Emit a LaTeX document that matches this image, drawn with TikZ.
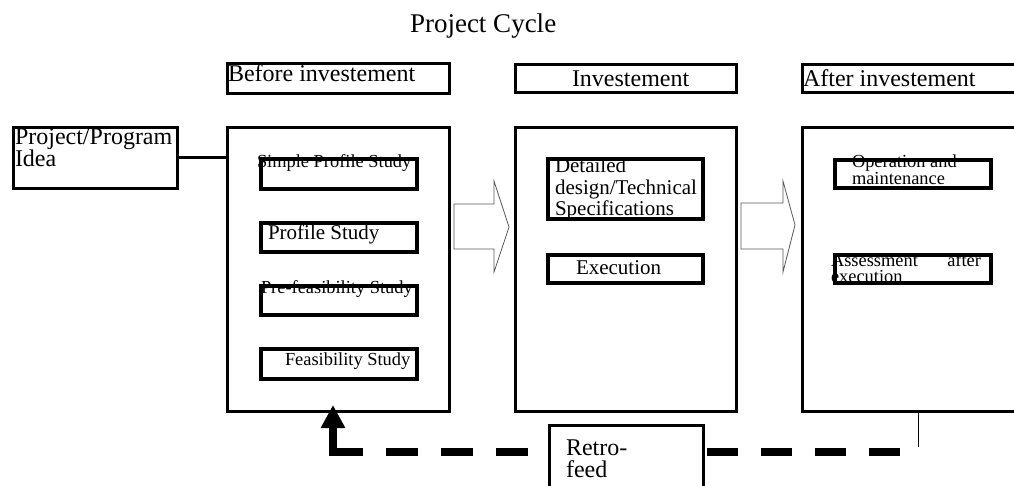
\documentclass[tikz,border=0pt]{standalone}
\usepackage{fontspec}
\setmainfont{Liberation Serif}
\usetikzlibrary{arrows.meta,calc}
\newcommand\fsz[1]{\fontsize{#1}{#1}\selectfont}
\tikzset{
  frame/.style={draw=black, line width=3pt, fill=white, inner sep=0pt, outer sep=0pt},
  ibox/.style={draw=black, line width=3.6pt, fill=white, inner sep=0pt, outer sep=0pt},
  txt/.style={anchor=base west, inner sep=0pt, outer sep=0pt},
  blockarrow/.style={draw=black!65, line width=0.8pt, fill=white},
  thickdash/.style={line width=8pt, dash pattern=on 31pt off 23pt},
  feedback/.style={line width=8.5pt, dash pattern=on 32pt off 23pt on 32pt off 23pt on 32pt off 23pt on 200pt,
    -{Triangle[width=23pt,length=23pt]}},
}
\begin{document}
\begin{tikzpicture}[x=1pt,y=-1pt]
\path[use as bounding box, clip] (0,0) rectangle (1014,486);

% title
\node[txt] (title) at (410,33) {\fsz{27}Project Cycle};

% header boxes
\node[frame, minimum width=222pt, minimum height=30pt] (bhead) at (338.5,78.5) {};
\node[frame, minimum width=221pt, minimum height=28pt] (ihead) at (626,78.5) {};
\node[frame, minimum width=240pt, minimum height=28pt] (ahead) at (922.5,78.5) {};
\node[txt] (bheadt) at (228,82) {\fsz{24}Before investement};
\node[txt] (iheadt) at (572,87) {\fsz{24}Investement};
\node[txt] (aheadt) at (803,87) {\fsz{24}After investement};

% main boxes
\node[frame, minimum width=222pt, minimum height=284pt] (bmain) at (338.5,269.5) {};
\node[frame, minimum width=221pt, minimum height=284pt] (imain) at (626,269.5) {};
\node[frame, minimum width=240pt, minimum height=284pt] (amain) at (922.5,269.5) {};

% idea box
\node[frame, minimum width=164pt, minimum height=61pt] (idea) at (95.5,158) {};
\node[txt] (ideat1) at (15,145) {\fsz{24}Project/Program};
\node[txt] (ideat2) at (15,167) {\fsz{24}Idea};
\draw[line width=3pt] (idea.east) -- (idea.east -| bmain.west);

% before inner boxes
\node[ibox, minimum width=156pt, minimum height=30pt] (sps) at (339,174) {};
\node[ibox, minimum width=156pt, minimum height=29pt] (ps) at (339,237.5) {};
\node[ibox, minimum width=156pt, minimum height=29pt] (pfs) at (339,300.5) {};
\node[ibox, minimum width=156pt, minimum height=30pt] (fs) at (339,364) {};
\node[txt] (spst) at (257,168) {\fsz{18.4}Simple Profile Study};
\node[txt] (pst) at (268,240) {\fsz{21}Profile Study};
\node[txt] (pfst) at (261,294) {\fsz{18.4}Pre-feasibility Study};
\node[txt] (fst) at (285,365) {\fsz{18.4}Feasibility Study};

% investment inner boxes
\node[ibox, minimum width=155pt, minimum height=60pt] (dd) at (625.5,189) {};
\node[ibox, minimum width=155pt, minimum height=28pt] (ex) at (625.5,269) {};
\node[txt] (ddt1) at (555,173) {\fsz{21}Detailed};
\node[txt] (ddt2) at (555,195) {\fsz{21}design/Technical};
\node[txt] (ddt3) at (555,216) {\fsz{21}Specifications};
\node[txt] (ext) at (576,275) {\fsz{21}Execution};

% after inner boxes
\node[ibox, minimum width=156pt, minimum height=28pt] (om) at (913,174) {};
\node[ibox, minimum width=156pt, minimum height=28pt] (ae) at (913,269) {};
\node[txt] (omt1) at (852,168) {\fsz{18.4}Operation and};
\node[txt] (omt2) at (852,185) {\fsz{18.4}maintenance};
\node[txt] (aet1) at (831,266) {\fsz{18.4}\makebox[150pt][l]{Assessment\hfill after}};
\node[txt] (aet2) at (831,283) {\fsz{18.4}execution};

% block arrows
\draw[blockarrow] (454,204) -- (494,204) -- (494,181) -- (509,227) -- (494,272) -- (494,249) -- (454,249) -- cycle;
\draw[blockarrow] (741,203) -- (783,203) -- (783,181) -- (795,225) -- (783,272) -- (783,249) -- (741,249) -- cycle;

% retro-feed
\coordinate (rstart) at (528,452);
\coordinate (tip) at (333,405);
\coordinate (rend) at (902,452);
\coordinate (vline) at (918,447);
\draw[feedback] (rstart) -- (rstart -| tip) -- (tip);
\draw[thickdash] (707,452) -- (rend);
\draw[line width=1pt] (vline |- amain.south) -- (vline);
\node[frame, minimum width=154pt, minimum height=100pt] (retro) at (626,475) {};
\node[txt] (retrot1) at (566,455) {\fsz{24}Retro-};
\node[txt] (retrot2) at (566,477) {\fsz{24}feed};
\end{tikzpicture}
\end{document}
